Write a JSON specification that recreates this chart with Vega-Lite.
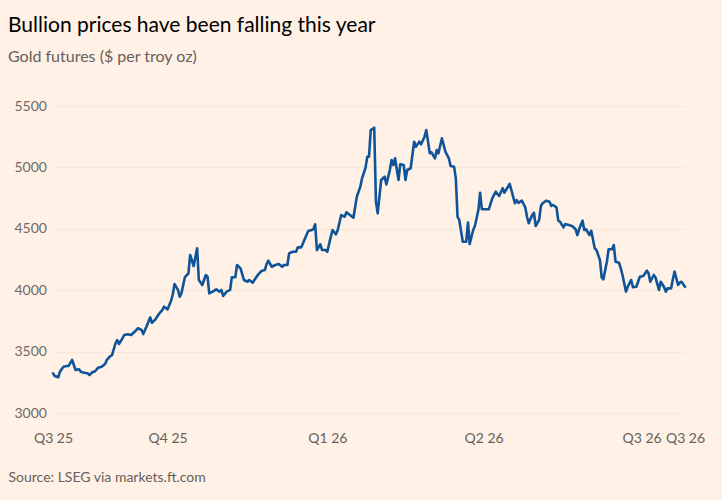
{
  "$schema": "https://vega.github.io/schema/vega-lite/v6.json",
  "width": 632,
  "height": 307,
  "autosize": {"type": "none"},
  "padding": {"left": 53, "top": 106, "right": 37, "bottom": 87},
  "background": "#fff1e5",
  "title": {
    "text": "Bullion prices have been falling this year",
    "subtitle": "Gold futures ($ per troy oz)",
    "anchor": "start",
    "frame": "group",
    "dx": -45,
    "offset": 34,
    "font": "Lato",
    "fontSize": 21,
    "fontWeight": "normal",
    "color": "#000000",
    "subtitleFont": "Lato",
    "subtitleFontSize": 16,
    "subtitleColor": "#66605c",
    "subtitlePadding": 13
  },
  "config": {
    "view": {"stroke": null},
    "font": "Lato"
  },
  "data": {
    "values": [
      {"date": "2025-07-27", "price": 3323},
      {"date": "2025-07-28", "price": 3301},
      {"date": "2025-07-30", "price": 3291},
      {"date": "2025-07-31", "price": 3336},
      {"date": "2025-08-02", "price": 3377},
      {"date": "2025-08-04", "price": 3383},
      {"date": "2025-08-05", "price": 3383},
      {"date": "2025-08-07", "price": 3432},
      {"date": "2025-08-09", "price": 3350},
      {"date": "2025-08-11", "price": 3356},
      {"date": "2025-08-12", "price": 3336},
      {"date": "2025-08-14", "price": 3328},
      {"date": "2025-08-16", "price": 3323},
      {"date": "2025-08-17", "price": 3309},
      {"date": "2025-08-19", "price": 3336},
      {"date": "2025-08-20", "price": 3336},
      {"date": "2025-08-22", "price": 3369},
      {"date": "2025-08-24", "price": 3377},
      {"date": "2025-08-26", "price": 3399},
      {"date": "2025-08-27", "price": 3432},
      {"date": "2025-08-29", "price": 3464},
      {"date": "2025-08-30", "price": 3472},
      {"date": "2025-09-01", "price": 3568},
      {"date": "2025-09-02", "price": 3594},
      {"date": "2025-09-03", "price": 3562},
      {"date": "2025-09-05", "price": 3608},
      {"date": "2025-09-06", "price": 3635},
      {"date": "2025-09-08", "price": 3641},
      {"date": "2025-09-10", "price": 3635},
      {"date": "2025-09-12", "price": 3662},
      {"date": "2025-09-14", "price": 3690},
      {"date": "2025-09-16", "price": 3676},
      {"date": "2025-09-17", "price": 3643},
      {"date": "2025-09-19", "price": 3708},
      {"date": "2025-09-21", "price": 3779},
      {"date": "2025-09-22", "price": 3735},
      {"date": "2025-09-24", "price": 3763},
      {"date": "2025-09-26", "price": 3806},
      {"date": "2025-09-28", "price": 3839},
      {"date": "2025-09-29", "price": 3866},
      {"date": "2025-10-01", "price": 3844},
      {"date": "2025-10-03", "price": 3914},
      {"date": "2025-10-04", "price": 3967},
      {"date": "2025-10-05", "price": 4050},
      {"date": "2025-10-07", "price": 4002},
      {"date": "2025-10-08", "price": 3947},
      {"date": "2025-10-09", "price": 3976},
      {"date": "2025-10-11", "price": 4107},
      {"date": "2025-10-13", "price": 4138},
      {"date": "2025-10-14", "price": 4287},
      {"date": "2025-10-16", "price": 4197},
      {"date": "2025-10-18", "price": 4341},
      {"date": "2025-10-19", "price": 4083},
      {"date": "2025-10-21", "price": 4042},
      {"date": "2025-10-23", "price": 4124},
      {"date": "2025-10-24", "price": 4110},
      {"date": "2025-10-25", "price": 3975},
      {"date": "2025-10-27", "price": 3988},
      {"date": "2025-10-29", "price": 4007},
      {"date": "2025-10-31", "price": 3988},
      {"date": "2025-11-01", "price": 4002},
      {"date": "2025-11-02", "price": 3953},
      {"date": "2025-11-04", "price": 3988},
      {"date": "2025-11-06", "price": 4002},
      {"date": "2025-11-07", "price": 4105},
      {"date": "2025-11-09", "price": 4105},
      {"date": "2025-11-10", "price": 4205},
      {"date": "2025-11-12", "price": 4178},
      {"date": "2025-11-14", "price": 4083},
      {"date": "2025-11-16", "price": 4069},
      {"date": "2025-11-17", "price": 4083},
      {"date": "2025-11-19", "price": 4061},
      {"date": "2025-11-20", "price": 4083},
      {"date": "2025-11-22", "price": 4124},
      {"date": "2025-11-24", "price": 4156},
      {"date": "2025-11-26", "price": 4164},
      {"date": "2025-11-27", "price": 4213},
      {"date": "2025-11-28", "price": 4240},
      {"date": "2025-11-30", "price": 4191},
      {"date": "2025-12-02", "price": 4205},
      {"date": "2025-12-04", "price": 4213},
      {"date": "2025-12-06", "price": 4191},
      {"date": "2025-12-07", "price": 4205},
      {"date": "2025-12-09", "price": 4205},
      {"date": "2025-12-10", "price": 4300},
      {"date": "2025-12-12", "price": 4313},
      {"date": "2025-12-14", "price": 4313},
      {"date": "2025-12-15", "price": 4349},
      {"date": "2025-12-17", "price": 4349},
      {"date": "2025-12-18", "price": 4382},
      {"date": "2025-12-20", "price": 4449},
      {"date": "2025-12-21", "price": 4482},
      {"date": "2025-12-23", "price": 4490},
      {"date": "2025-12-24", "price": 4498},
      {"date": "2025-12-25", "price": 4537},
      {"date": "2025-12-26", "price": 4327},
      {"date": "2025-12-28", "price": 4374},
      {"date": "2025-12-29", "price": 4327},
      {"date": "2025-12-31", "price": 4327},
      {"date": "2026-01-01", "price": 4313},
      {"date": "2026-01-03", "price": 4436},
      {"date": "2026-01-04", "price": 4490},
      {"date": "2026-01-06", "price": 4455},
      {"date": "2026-01-07", "price": 4490},
      {"date": "2026-01-09", "price": 4612},
      {"date": "2026-01-11", "price": 4598},
      {"date": "2026-01-12", "price": 4634},
      {"date": "2026-01-14", "price": 4612},
      {"date": "2026-01-16", "price": 4590},
      {"date": "2026-01-18", "price": 4761},
      {"date": "2026-01-20", "price": 4843},
      {"date": "2026-01-21", "price": 4911},
      {"date": "2026-01-23", "price": 4997},
      {"date": "2026-01-24", "price": 5087},
      {"date": "2026-01-25", "price": 5087},
      {"date": "2026-01-26", "price": 5304},
      {"date": "2026-01-28", "price": 5323},
      {"date": "2026-01-29", "price": 4721},
      {"date": "2026-01-30", "price": 4626},
      {"date": "2026-02-01", "price": 4897},
      {"date": "2026-02-03", "price": 4924},
      {"date": "2026-02-04", "price": 4862},
      {"date": "2026-02-06", "price": 4979},
      {"date": "2026-02-07", "price": 5060},
      {"date": "2026-02-08", "price": 5019},
      {"date": "2026-02-09", "price": 5074},
      {"date": "2026-02-11", "price": 4897},
      {"date": "2026-02-12", "price": 5025},
      {"date": "2026-02-14", "price": 5019},
      {"date": "2026-02-15", "price": 4897},
      {"date": "2026-02-16", "price": 4979},
      {"date": "2026-02-18", "price": 4993},
      {"date": "2026-02-20", "price": 5209},
      {"date": "2026-02-21", "price": 5168},
      {"date": "2026-02-23", "price": 5209},
      {"date": "2026-02-24", "price": 5188},
      {"date": "2026-02-26", "price": 5250},
      {"date": "2026-02-27", "price": 5304},
      {"date": "2026-03-01", "price": 5115},
      {"date": "2026-03-02", "price": 5123},
      {"date": "2026-03-04", "price": 5074},
      {"date": "2026-03-05", "price": 5142},
      {"date": "2026-03-06", "price": 5115},
      {"date": "2026-03-08", "price": 5237},
      {"date": "2026-03-09", "price": 5182},
      {"date": "2026-03-10", "price": 5128},
      {"date": "2026-03-12", "price": 5074},
      {"date": "2026-03-13", "price": 5011},
      {"date": "2026-03-15", "price": 5006},
      {"date": "2026-03-16", "price": 4911},
      {"date": "2026-03-17", "price": 4598},
      {"date": "2026-03-18", "price": 4572},
      {"date": "2026-03-20", "price": 4395},
      {"date": "2026-03-22", "price": 4395},
      {"date": "2026-03-23", "price": 4550},
      {"date": "2026-03-24", "price": 4376},
      {"date": "2026-03-26", "price": 4490},
      {"date": "2026-03-27", "price": 4523},
      {"date": "2026-03-29", "price": 4653},
      {"date": "2026-03-30", "price": 4794},
      {"date": "2026-03-31", "price": 4659},
      {"date": "2026-04-02", "price": 4659},
      {"date": "2026-04-04", "price": 4659},
      {"date": "2026-04-06", "price": 4748},
      {"date": "2026-04-08", "price": 4802},
      {"date": "2026-04-10", "price": 4767},
      {"date": "2026-04-12", "price": 4830},
      {"date": "2026-04-13", "price": 4794},
      {"date": "2026-04-16", "price": 4865},
      {"date": "2026-04-17", "price": 4816},
      {"date": "2026-04-19", "price": 4708},
      {"date": "2026-04-20", "price": 4734},
      {"date": "2026-04-21", "price": 4712},
      {"date": "2026-04-23", "price": 4729},
      {"date": "2026-04-25", "price": 4675},
      {"date": "2026-04-26", "price": 4598},
      {"date": "2026-04-27", "price": 4545},
      {"date": "2026-04-29", "price": 4612},
      {"date": "2026-04-30", "price": 4631},
      {"date": "2026-05-01", "price": 4523},
      {"date": "2026-05-03", "price": 4572},
      {"date": "2026-05-04", "price": 4686},
      {"date": "2026-05-05", "price": 4708},
      {"date": "2026-05-07", "price": 4729},
      {"date": "2026-05-09", "price": 4721},
      {"date": "2026-05-10", "price": 4686},
      {"date": "2026-05-11", "price": 4694},
      {"date": "2026-05-13", "price": 4675},
      {"date": "2026-05-14", "price": 4566},
      {"date": "2026-05-15", "price": 4558},
      {"date": "2026-05-17", "price": 4512},
      {"date": "2026-05-18", "price": 4539},
      {"date": "2026-05-20", "price": 4531},
      {"date": "2026-05-22", "price": 4523},
      {"date": "2026-05-24", "price": 4496},
      {"date": "2026-05-25", "price": 4449},
      {"date": "2026-05-26", "price": 4496},
      {"date": "2026-05-28", "price": 4566},
      {"date": "2026-05-29", "price": 4490},
      {"date": "2026-05-30", "price": 4496},
      {"date": "2026-06-01", "price": 4449},
      {"date": "2026-06-02", "price": 4484},
      {"date": "2026-06-04", "price": 4341},
      {"date": "2026-06-05", "price": 4327},
      {"date": "2026-06-07", "price": 4246},
      {"date": "2026-06-08", "price": 4105},
      {"date": "2026-06-09", "price": 4089},
      {"date": "2026-06-11", "price": 4232},
      {"date": "2026-06-12", "price": 4333},
      {"date": "2026-06-14", "price": 4333},
      {"date": "2026-06-15", "price": 4368},
      {"date": "2026-06-16", "price": 4232},
      {"date": "2026-06-18", "price": 4224},
      {"date": "2026-06-19", "price": 4178},
      {"date": "2026-06-20", "price": 4124},
      {"date": "2026-06-22", "price": 3988},
      {"date": "2026-06-23", "price": 4028},
      {"date": "2026-06-25", "price": 4083},
      {"date": "2026-06-26", "price": 4024},
      {"date": "2026-06-28", "price": 4028},
      {"date": "2026-06-29", "price": 4069},
      {"date": "2026-06-30", "price": 4110},
      {"date": "2026-07-02", "price": 4116},
      {"date": "2026-07-04", "price": 4159},
      {"date": "2026-07-05", "price": 4138},
      {"date": "2026-07-06", "price": 4069},
      {"date": "2026-07-08", "price": 4124},
      {"date": "2026-07-09", "price": 4105},
      {"date": "2026-07-11", "price": 4002},
      {"date": "2026-07-12", "price": 4069},
      {"date": "2026-07-14", "price": 4024},
      {"date": "2026-07-15", "price": 3988},
      {"date": "2026-07-16", "price": 4015},
      {"date": "2026-07-18", "price": 4015},
      {"date": "2026-07-19", "price": 4089},
      {"date": "2026-07-20", "price": 4151},
      {"date": "2026-07-22", "price": 4042},
      {"date": "2026-07-23", "price": 4061},
      {"date": "2026-07-24", "price": 4069},
      {"date": "2026-07-26", "price": 4028}
    ]
  },
  "mark": {"type": "line", "color": "#0f5499", "strokeWidth": 2.6, "strokeJoin": "round", "strokeCap": "round"},
  "encoding": {
    "x": {
      "field": "date",
      "type": "temporal",
      "scale": {"type": "utc"},
      "axis": {
        "values": [
          {"year": 2025, "month": 7, "date": 27, "utc": true},
          {"year": 2025, "month": 8, "date": 1, "utc": true},
          {"year": 2025, "month": 9, "date": 1, "utc": true},
          {"year": 2025, "month": 10, "date": 1, "utc": true},
          {"year": 2025, "month": 11, "date": 1, "utc": true},
          {"year": 2025, "month": 12, "date": 1, "utc": true},
          {"year": 2026, "month": 1, "date": 1, "utc": true},
          {"year": 2026, "month": 2, "date": 1, "utc": true},
          {"year": 2026, "month": 3, "date": 1, "utc": true},
          {"year": 2026, "month": 4, "date": 1, "utc": true},
          {"year": 2026, "month": 5, "date": 1, "utc": true},
          {"year": 2026, "month": 6, "date": 1, "utc": true},
          {"year": 2026, "month": 7, "date": 1, "utc": true},
          {"year": 2026, "month": 7, "date": 26, "utc": true}
        ],
        "labelExpr": "utcdate(datum.value) != 1 || utcmonth(datum.value) % 3 == 0 ? 'Q' + (floor(utcmonth(datum.value) / 3) + 1) + ' ' + utcFormat(datum.value, '%y') : ''",
        "labelOverlap": false,
        "labelBound": false,
        "labelFlush": false,
        "labelFont": "Lato",
        "labelFontSize": 14,
        "labelColor": "#66605c",
        "labelPadding": 12,
        "domain": false,
        "grid": false,
        "ticks": true,
        "tickSize": 6,
        "tickColor": "#fbebde",
        "title": "Source: LSEG via markets.ft.com",
        "titleFont": "Lato",
        "titleFontSize": 14,
        "titleFontWeight": "normal",
        "titleColor": "#66605c",
        "titleAlign": "left",
        "titleBaseline": "alphabetic",
        "titleAnchor": "start",
        "titleX": -45,
        "titleY": 68
      }
    },
    "y": {
      "field": "price",
      "type": "quantitative",
      "scale": {"domain": [3000, 5500], "nice": false, "zero": false},
      "axis": {
        "values": [3000, 3500, 4000, 4500, 5000, 5500],
        "format": "d",
        "title": null,
        "domain": false,
        "ticks": false,
        "grid": true,
        "gridColor": "#f7e8db",
        "gridWidth": 1,
        "labelAlign": "left",
        "labelBaseline": "middle",
        "labelPadding": 39,
        "labelFont": "Lato",
        "labelFontSize": 14,
        "labelColor": "#6f6864"
      }
    }
  }
}
